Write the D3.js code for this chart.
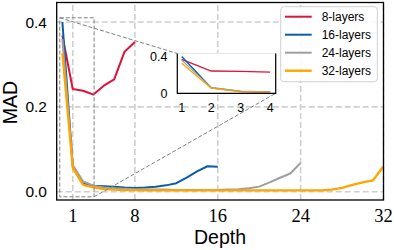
<!DOCTYPE html>
<html>
<head>
<meta charset="utf-8">
<script src="https://cdn.jsdelivr.net/npm/d3@7"></script>
<style>
body { margin: 0; background: #fff; }
svg { display: block; }
</style>
</head>
<body>
<script>
// values, one value per layer
var red8 = [0.368, 0.242, 0.238, 0.229, 0.25, 0.265, 0.33, 0.353];
var blue16 = [0.4, 0.06, 0.02, 0.014, 0.013, 0.012, 0.01, 0.009, 0.01, 0.012, 0.015, 0.02, 0.033, 0.048, 0.06, 0.059];
var gray24 = [0.36, 0.063, 0.024, 0.014, 0.01, 0.008, 0.007, 0.006, 0.005, 0.005, 0.005, 0.004, 0.004, 0.004, 0.004, 0.004,
              0.005, 0.006, 0.008, 0.012, 0.022, 0.033, 0.043, 0.068];
var orange32 = [0.326, 0.056, 0.016, 0.01, 0.006, 0.005, 0.004, 0.004, 0.003, 0.003, 0.003, 0.003, 0.003, 0.003, 0.003, 0.003,
                0.003, 0.003, 0.003, 0.003, 0.003, 0.003, 0.003, 0.003, 0.003, 0.003, 0.005, 0.009, 0.016, 0.022, 0.027, 0.06];

var seriesNames = ["8-layers", "16-layers", "24-layers", "32-layers"];
var seriesColors = ["#dc143c", "#0c5da5", "#9e9e9e", "#ffa500"];

var xTickPos = [2, 8, 16, 24, 32];
var xTickLabels = ["1", "8", "16", "24", "32"];
var yTicks = [0.0, 0.2, 0.4];
var insetXTicks = [1, 2, 3, 4];
var insetYTicks = [0, 0.4];

var allSeries = [red8, blue16, gray24, orange32].map(function (vals, i) {
	return {
		name: seriesNames[i],
		color: seriesColors[i],
		points: vals.map(function (v, j) { return {x: j + 1, y: v}; })
	};
});

var svg = d3.select("body").append("svg")
	.attr("width", 394)
	.attr("height", 250);

var x = d3.scaleLinear().domain([0.45, 32]).range([56.7, 383.5]);
var y = d3.scaleLinear().domain([-0.0195, 0.446]).range([200, 2.5]);

// grid
svg.selectAll(".vgrid").data(xTickPos).enter().append("line")
	.attr("x1", function (d) { return x(d); })
	.attr("x2", function (d) { return x(d); })
	.attr("y1", y.range()[0]).attr("y2", y.range()[1])
	.style("stroke", "#cfcfcf").style("stroke-width", 1.6).style("stroke-dasharray", "6,3");
svg.selectAll(".hgrid").data(yTicks).enter().append("line")
	.attr("x1", x.range()[0]).attr("x2", x.range()[1])
	.attr("y1", function (d) { return y(d); })
	.attr("y2", function (d) { return y(d); })
	.style("stroke", "#cfcfcf").style("stroke-width", 1.6).style("stroke-dasharray", "6,3");

var line = d3.line()
	.x(function (d) { return x(d.x); })
	.y(function (d) { return y(d.y); });

svg.selectAll(".series").data(allSeries).enter().append("path")
	.attr("d", function (d) { return line(d.points); })
	.style("fill", "none")
	.style("stroke", function (d) { return d.color; })
	.style("stroke-width", function (d, i) { return i == 3 ? 2.3 : 2; })
	.style("stroke-linejoin", "round");

// zoom box + connectors to the inset
var zoomBox = {x0: 0.745, x1: 4.06, y0: -0.012, y1: 0.41};
var inset = {left: 177.3, right: 275.7, top: 53.5, bottom: 93.3};

svg.append("rect")
	.attr("x", x(zoomBox.x0)).attr("y", y(zoomBox.y1))
	.attr("width", x(zoomBox.x1) - x(zoomBox.x0))
	.attr("height", y(zoomBox.y0) - y(zoomBox.y1))
	.style("fill", "none").style("stroke", "#808080").style("stroke-width", 1).style("stroke-dasharray", "4,2");
svg.append("line")
	.attr("x1", x(zoomBox.x0)).attr("y1", y(zoomBox.y1))
	.attr("x2", inset.left).attr("y2", inset.top)
	.style("stroke", "#808080").style("stroke-width", 1).style("stroke-dasharray", "4,2");
svg.append("line")
	.attr("x1", x(zoomBox.x1)).attr("y1", y(zoomBox.y0))
	.attr("x2", inset.right).attr("y2", inset.bottom)
	.style("stroke", "#808080").style("stroke-width", 1).style("stroke-dasharray", "4,2");

// main spines
svg.append("rect")
	.attr("x", x.range()[0]).attr("y", y.range()[1])
	.attr("width", x.range()[1] - x.range()[0])
	.attr("height", y.range()[0] - y.range()[1])
	.style("fill", "none").style("stroke", "#000").style("stroke-width", 1.3);

// tick labels
svg.selectAll(".xlab").data(xTickPos).enter().append("text")
	.attr("x", function (d) { return x(d); })
	.attr("y", 222)
	.attr("text-anchor", "middle")
	.style("font-family", "'Liberation Serif', serif").style("font-size", "18.5px")
	.text(function (d, i) { return xTickLabels[i]; });
svg.selectAll(".ylab").data(yTicks).enter().append("text")
	.attr("x", 47)
	.attr("y", function (d) { return y(d) + 5.5; })
	.attr("text-anchor", "end")
	.style("font-family", "'Liberation Sans', Arial, sans-serif").style("font-size", "15.5px")
	.text(function (d) { return d.toFixed(1); });

svg.append("text")
	.attr("x", 220).attr("y", 244)
	.attr("text-anchor", "middle")
	.style("font-family", "'Liberation Sans', Arial, sans-serif").style("font-size", "19.5px")
	.text("Depth");
svg.append("text")
	.attr("transform", "translate(16.5,102.5) rotate(-90)")
	.attr("text-anchor", "middle")
	.style("font-family", "'Liberation Sans', Arial, sans-serif").style("font-size", "19.5px")
	.text("MAD");

// inset axes
var ix = d3.scaleLinear().domain([0.85, 4.19]).range([inset.left, inset.right]);
var iy = d3.scaleLinear().domain([0, 0.432]).range([inset.bottom, inset.top]);

svg.append("rect")
	.attr("x", inset.left).attr("y", inset.top)
	.attr("width", inset.right - inset.left).attr("height", inset.bottom - inset.top)
	.style("fill", "#fff").style("stroke", "#e4e4e4").style("stroke-width", 1);

var iline = d3.line()
	.x(function (d) { return ix(d.x); })
	.y(function (d) { return iy(d.y); });

svg.selectAll(".iseries").data(allSeries).enter().append("path")
	.attr("d", function (d) { return iline(d.points.slice(0, 4)); })
	.style("fill", "none")
	.style("stroke", function (d) { return d.color; })
	.style("stroke-width", 1.3);

svg.append("path")
	.attr("d", "M" + inset.left + "," + inset.top + "V" + inset.bottom + "H" + inset.right + "V" + inset.top)
	.style("fill", "none").style("stroke", "#000").style("stroke-width", 1.2);

svg.selectAll(".ixlab").data(insetXTicks).enter().append("text")
	.attr("x", function (d) { return ix(d); })
	.attr("y", 111.5)
	.attr("text-anchor", "middle")
	.style("font-family", "'Liberation Sans', Arial, sans-serif").style("font-size", "12.5px")
	.text(function (d) { return d; });
svg.selectAll(".iylab").data(insetYTicks).enter().append("text")
	.attr("x", 167.5)
	.attr("y", function (d) { return iy(d) + 5; })
	.attr("text-anchor", "end")
	.style("font-family", "'Liberation Sans', Arial, sans-serif").style("font-size", "12.5px")
	.text(function (d) { return d; });

// legend
var legend = svg.append("g");
legend.append("rect")
	.attr("x", 280.7).attr("y", 6.7).attr("width", 96.6).attr("height", 75)
	.attr("rx", 3)
	.style("fill", "#fff").style("fill-opacity", 0.85)
	.style("stroke", "#d0d0d0").style("stroke-width", 1);
var items = legend.selectAll(".item").data(allSeries).enter().append("g")
	.attr("transform", function (d, i) { return "translate(0," + (16.7 + i * 18) + ")"; });
items.append("line")
	.attr("x1", 285).attr("x2", 311.7)
	.style("stroke", function (d) { return d.color; })
	.style("stroke-width", function (d, i) { return i == 3 ? 2.4 : 2; });
items.append("text")
	.attr("x", 321.7).attr("y", 4.3)
	.style("font-family", "'Liberation Sans', Arial, sans-serif").style("font-size", "12px")
	.text(function (d) { return d.name; });
</script>
</body>
</html>
